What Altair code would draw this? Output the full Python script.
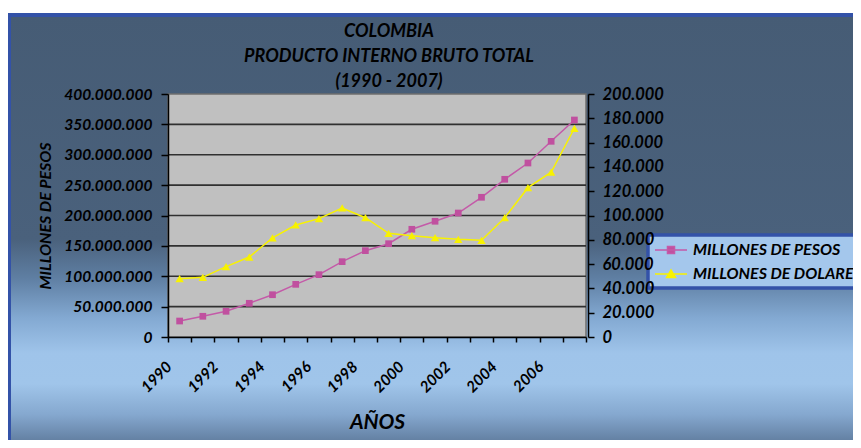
import json
import altair as alt
import pandas as pd

# ---------------- data ----------------
years = list(range(1990, 2008))
pesos = [26300000, 34100000, 42300000, 55500000, 69600000, 86700000, 102600000,
         124000000, 142100000, 153600000, 177300000, 190500000, 204100000,
         230000000, 259600000, 286400000, 322100000, 357200000]
dolares = [48000, 49100, 57900, 65800, 81600, 92200, 97400, 106200, 98200,
           85300, 83400, 81700, 80400, 79600, 98200, 122900, 135600, 171800]
series_names = ["MILLONES DE PESOS", "MILLONES DE DOLARES"]
left_ticks = [0, 50000000, 100000000, 150000000, 200000000, 250000000,
              300000000, 350000000, 400000000]
grid_values = left_ticks[1:-1]
right_ticks = [0, 20000, 40000, 60000, 80000, 100000, 120000, 140000,
               160000, 180000, 200000]
x_tick_years = list(range(1990, 2009))
x_label_years = [1990, 1992, 1994, 1996, 1998, 2000, 2002, 2004, 2006]
title_lines = ["COLOMBIA", "PRODUCTO INTERNO BRUTO TOTAL", "(1990 - 2007)"]

df = pd.DataFrame({"year": years, "pesos": pesos, "dolares": dolares})
df["pos"] = df["year"] + 0.5
grid_df = pd.DataFrame({"v": grid_values})
legend_df = pd.DataFrame({"serie": series_names})
one_df = pd.DataFrame({"k": [0]})

# ---------------- style ----------------
FONT = "Lato"
MAG = "#c0509f"
MAG_LINE = "#c45aa8"
YEL = "#f8f200"
W, H = 418, 243

dot_fmt = "replace(format(datum.value, ','), regexp(',', 'g'), '.')"

x_axis = alt.Axis(
    values=x_tick_years, format="d",
    labelExpr=f"indexof({json.dumps(x_label_years)}, datum.value) >= 0 ? datum.label : ''",
    labelAngle=315, labelAlign="right", labelBaseline="top",
    labelFlush=False, labelOverlap=False, labelBound=False,
    labelFont=FONT, labelFontSize=15.5, labelFontWeight="bold", labelFontStyle="italic",
    labelColor="black", labelPadding=17, labelOffset=-4,
    tickColor="black", tickSize=5, tickWidth=1.5,
    domainColor="black", domainWidth=1.5, grid=False, zindex=1,
    title="AÑOS", titleFont=FONT, titleFontSize=21, titleFontWeight="bold",
    titleFontStyle="italic", titleColor="black", titleY=85, titleBaseline="middle",
)
x_enc = alt.X("pos:Q", scale=alt.Scale(domain=[1990, 2008], nice=False, zero=False), axis=x_axis)

yl_scale = alt.Scale(domain=[0, 400000000], nice=False)
yl_axis = alt.Axis(
    orient="left", values=left_ticks, labelExpr=dot_fmt, grid=False, zindex=1,
    labelFont=FONT, labelFontSize=15.5, labelFontWeight="bold", labelFontStyle="italic",
    labelColor="black", labelPadding=9,
    tickColor="black", tickSize=7, tickWidth=1.5,
    domainColor="black", domainWidth=1.5,
    title="MILLONES DE PESOS", titleFont=FONT, titleFontSize=16, titleFontWeight="bold",
    titleFontStyle="italic", titleColor="black", titleAngle=270, titleX=-123,
    titleY=H / 2, titleAlign="center", titleBaseline="middle",
)
yr_scale = alt.Scale(domain=[0, 200000], nice=False)
yr_axis = alt.Axis(
    orient="right", values=right_ticks, labelExpr=dot_fmt, grid=False, zindex=1,
    labelFont=FONT, labelFontSize=16.5, labelFontWeight="bold", labelFontStyle="italic",
    labelColor="black", labelPadding=8, offset=2,
    tickColor="black", tickSize=6, tickWidth=1.5,
    domainColor="black", domainWidth=1.5, title=None,
)

# ---------------- decorative frame + plot background ----------------
frame = alt.Chart(one_df).mark_rect(
    fill=alt.LinearGradient(
        gradient="linear", x1=0, y1=0, x2=0, y2=1,
        stops=[
            alt.GradientStop(offset=0.0, color="#465c75"),
            alt.GradientStop(offset=0.51, color="#4a617c"),
            alt.GradientStop(offset=0.60, color="#5f7fa3"),
            alt.GradientStop(offset=0.69, color="#83a9d2"),
            alt.GradientStop(offset=0.77, color="#9fc4ea"),
            alt.GradientStop(offset=0.84, color="#a0c5ea"),
            alt.GradientStop(offset=0.91, color="#85a8cf"),
            alt.GradientStop(offset=0.986, color="#5a7596"),
            alt.GradientStop(offset=1.0, color="#55708f"),
        ],
    ),
    stroke="#3352a8", strokeWidth=4,
).encode(x=alt.value(-159), x2=alt.value(720), y=alt.value(-79), y2=alt.value(360))

plot_bg = alt.Chart(one_df).mark_rect(
    fill="#c0c0c0", stroke="#6e6e6e", strokeWidth=1.5
).encode(x=alt.value(0), x2=alt.value(W), y=alt.value(0), y2=alt.value(H))

# ---------------- data layers ----------------
grid = alt.Chart(grid_df).mark_rule(color="#303030", strokeWidth=1.6).encode(
    y=alt.Y("v:Q", scale=yl_scale, axis=yl_axis)
)
base = alt.Chart(df)
pesos_line = base.mark_line(color=MAG_LINE, strokeWidth=1.5).encode(
    x=x_enc, y=alt.Y("pesos:Q", scale=yl_scale, axis=yl_axis))
pesos_pts = base.mark_point(shape="square", filled=True, size=45, color=MAG, opacity=1).encode(
    x=x_enc, y=alt.Y("pesos:Q", scale=yl_scale, axis=yl_axis))
left_layer = alt.layer(grid, pesos_line, pesos_pts)

dol_line = base.mark_line(color=YEL, strokeWidth=1.5).encode(
    x=x_enc, y=alt.Y("dolares:Q", scale=yr_scale, axis=yr_axis))
dol_pts = base.mark_point(shape="triangle-up", filled=True, size=70, color=YEL, opacity=1).encode(
    x=x_enc, y=alt.Y("dolares:Q", scale=yr_scale, axis=yr_axis))
right_layer = alt.layer(dol_line, dol_pts)

# ---------------- legend (scales only, no visible marks) ----------------
legend = alt.Legend(
    orient="none", legendX=480, legendY=141, title=None,
    fillColor="#a4c7ec", strokeColor="#3352a8", padding=6,
    labelFont=FONT, labelFontSize=16, labelFontWeight="bold", labelFontStyle="italic",
    labelColor="black", labelOffset=21, rowPadding=7, labelLimit=0,
    symbolSize=256, symbolStrokeWidth=1.5, symbolOpacity=1,
)
shape_paths = ["M-1,0H3M0.56,-0.44H1.44V0.44H0.56Z", "M-1,0H3M1,-0.5L1.56,0.45H0.44Z"]
legend_layer = alt.Chart(legend_df).transform_filter("false").mark_point(
    filled=True, opacity=1
).encode(
    shape=alt.Shape("serie:N", scale=alt.Scale(domain=series_names, range=shape_paths), legend=legend),
    fill=alt.Fill("serie:N", scale=alt.Scale(domain=series_names, range=[MAG, YEL]), legend=legend),
    stroke=alt.Stroke("serie:N", scale=alt.Scale(domain=series_names, range=[MAG_LINE, YEL]), legend=legend),
)

chart = alt.layer(frame, plot_bg, left_layer, right_layer, legend_layer).resolve_scale(
    y="independent"
).properties(
    width=W, height=H,
    autosize=alt.AutoSizeParams(type="none"),
    padding={"left": 160, "top": 86, "right": 267, "bottom": 103},
    title=alt.TitleParams(
        text=title_lines, anchor="middle", frame="group", offset=0, dx=12, dy=78,
        font=FONT, fontSize=18, fontWeight="bold", fontStyle="italic",
        color="black", lineHeight=25,
    ),
).configure(background="white").configure_view(stroke=None).configure_legend(strokeWidth=3.5)

chart.save("out.html", embed_options={"renderer": "svg", "actions": False})
